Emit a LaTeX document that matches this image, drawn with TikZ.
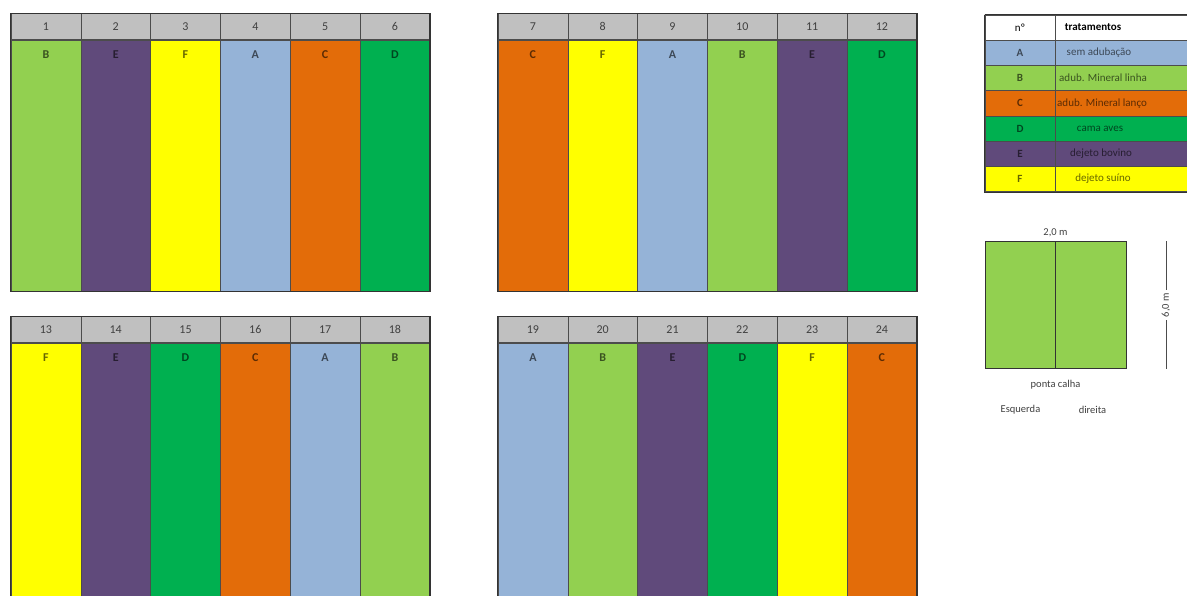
\documentclass[tikz,border=0pt]{standalone}
\usepackage{fontspec}
\setmainfont{Carlito}
\usepackage{xcolor}
\usepackage{tikz}
\usetikzlibrary{positioning,calc}

\definecolor{trtA}{HTML}{95B3D7}
\definecolor{trtB}{HTML}{92D050}
\definecolor{trtC}{HTML}{E36C09}
\definecolor{trtD}{HTML}{00B050}
\definecolor{trtE}{HTML}{604A7B}
\definecolor{trtF}{HTML}{FFFF00}
\definecolor{hdrgray}{HTML}{C0C0C0}

\tikzset{
  plotcell/.style={draw=black!70, line width=0.6pt, minimum width=69.8pt, inner sep=0pt, anchor=north},
  numcell/.style={draw=black!70, line width=0.6pt, fill=hdrgray, minimum width=69.8pt, minimum height=26pt,
    inner sep=0pt, text=black!75, font=\fontsize{12}{14}\selectfont},
  trtlabel/.style={font=\fontsize{12}{14}\selectfont\bfseries, text=#1!40!black, inner sep=0pt,
    text height=8.5pt, text depth=0pt},
  frame/.style={draw=black!80, line width=1.3pt},
  legkey/.style={draw=black!70, line width=0.6pt, minimum width=70pt, minimum height=25.3pt, inner sep=0pt,
    font=\fontsize{11}{13}\selectfont\bfseries},
  legfill/.style={draw=black!70, line width=0.6pt, minimum width=150pt, minimum height=25.3pt, inner sep=0pt, anchor=west},
  legtext/.style={font=\fontsize{11}{13}\selectfont, inner sep=0pt},
  small/.style={font=\fontsize{10.5}{12}\selectfont, text=black!75}
}

\begin{document}
\begin{tikzpicture}[x=1pt, y=-1pt]
  \useasboundingbox[fill=white] (0,0) rectangle (1187,596);

  % Block 1 (plots 1-6)
  \foreach \l [count=\n] in {B,E,F,A,C,D} {
    \node[plotcell, fill=trt\l, minimum height=251pt] (p\n) at ({11+69.8*(\n-0.5)}, 40) {};
    \node[numcell, above=0pt of p\n] (h\n) {\n};
    \node[trtlabel=trt\l, below=10pt of p\n.north] (l\n) {\l};
  }
  \draw[frame] (h1.north west) rectangle (p6.south east);

  % Block 2 (plots 7-12)
  \foreach \l [count=\i, evaluate=\i as \n using int(\i+6)] in {C,F,A,B,E,D} {
    \node[plotcell, fill=trt\l, minimum height=251pt] (p\n) at ({498+69.8*(\i-0.5)}, 40) {};
    \node[numcell, above=0pt of p\n] (h\n) {\n};
    \node[trtlabel=trt\l, below=10pt of p\n.north] (l\n) {\l};
  }
  \draw[frame] (h7.north west) rectangle (p12.south east);

  % Block 3 (plots 13-18)
  \foreach \l [count=\i, evaluate=\i as \n using int(\i+12)] in {F,E,D,C,A,B} {
    \node[plotcell, fill=trt\l, minimum height=280pt] (p\n) at ({11+69.8*(\i-0.5)}, 343) {};
    \node[numcell, above=0pt of p\n] (h\n) {\n};
    \node[trtlabel=trt\l, below=10pt of p\n.north] (l\n) {\l};
  }
  \draw[frame] (h13.north west) rectangle (p18.south east);

  % Block 4 (plots 19-24)
  \foreach \l [count=\i, evaluate=\i as \n using int(\i+18)] in {A,B,E,D,F,C} {
    \node[plotcell, fill=trt\l, minimum height=280pt] (p\n) at ({498+69.8*(\i-0.5)}, 343) {};
    \node[numcell, above=0pt of p\n] (h\n) {\n};
    \node[trtlabel=trt\l, below=10pt of p\n.north] (l\n) {\l};
  }
  \draw[frame] (h19.north west) rectangle (p24.south east);

  % Legend
  \node[legkey, fill=white, font=\fontsize{11}{13}\selectfont] (k0) at (1020, 27.5) {nº};
  \node[legfill, fill=white, right=0pt of k0] (t0) {};
  \node[legtext, font=\fontsize{11}{13}\selectfont\bfseries] at (1093, 27.5) {tratamentos};
  \foreach \l [count=\r] in {A,B,C,D,E,F} {
    \node[legkey, fill=trt\l, text=trt\l!40!black] (k\l) at (1020, {40+25.3*(\r-0.5)}) {\l};
    \node[legfill, fill=trt\l, right=0pt of k\l] (t\l) {};
  }
  \node[legtext, text=trtA!40!black] at (1099, 52.6) {sem adubação};
  \node[legtext, text=trtB!40!black, anchor=west] at (1059, 77.9) {adub. Mineral linha};
  \node[legtext, text=trtC!40!black, anchor=west] at (1057, 103.2) {adub. Mineral lanço};
  \node[legtext, text=trtD!40!black] at (1100, 128.5) {cama aves};
  \node[legtext, text=trtE!40!black] at (1101, 153.8) {dejeto bovino};
  \node[legtext, text=trtF!40!black] at (1103, 179.1) {dejeto suíno};
  \draw[draw=black!80, line width=1pt] (k0.north west) -- (t0.north east)
    (k0.north west) -- (kF.south west) -- (tF.south east);

  % Plot dimensions
  \node[draw=black!80, line width=1pt, fill=trtB, minimum width=141pt, minimum height=126pt, inner sep=0pt] (sub) at (1055.5, 305) {};
  \draw[black!80, line width=0.8pt] (sub.north) -- (sub.south);
  \node[small, above=1pt of sub] (wid) {2,0 m};
  \node[small, rotate=90, inner sep=3pt] (hgt) at (1166, 305) {6,0 m};
  \draw[black!70, line width=0.6pt] (hgt.east) -- (hgt.east |- sub.north);
  \draw[black!70, line width=0.6pt] (hgt.west) -- (hgt.west |- sub.south);
  \node[small, below=8pt of sub.south] (pc) {ponta calha};
  \node[small] (esq) at ($(sub.south)+(-35,41)$) {Esquerda};
  \node[small] (dir) at ($(sub.south)+(37,41)$) {direita};
\end{tikzpicture}
\end{document}
